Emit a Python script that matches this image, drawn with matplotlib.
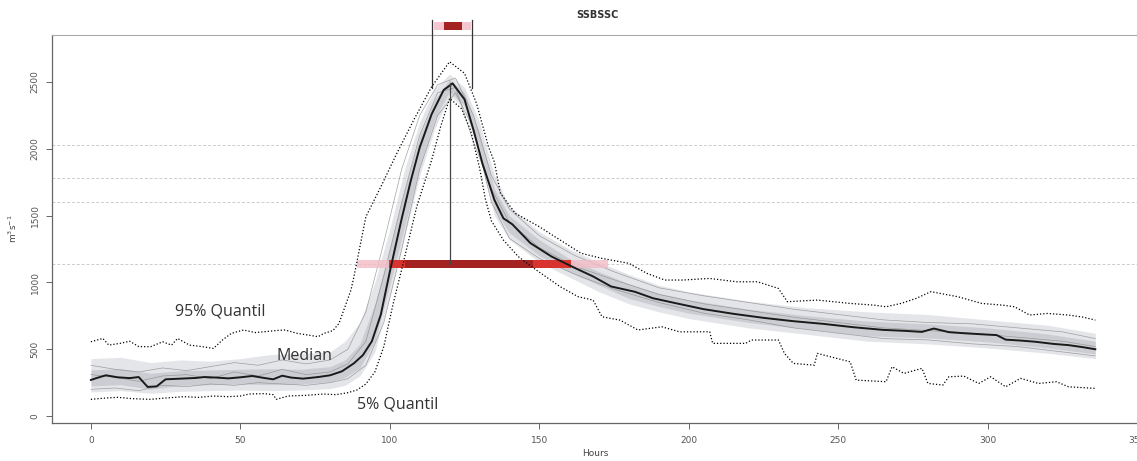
import matplotlib
matplotlib.use("Agg")
import matplotlib.pyplot as plt

# ---------------- data ----------------
med_h = [0, 2, 5, 9, 13, 16, 19, 22, 25, 30, 35, 38, 42, 46, 50, 54, 58, 61, 64, 67,
         71, 76, 80, 84, 88, 91, 94, 97, 100, 104, 107, 110, 114, 118, 121, 125, 128, 131, 135, 138,
         141, 147, 154, 161, 168, 174, 182, 188, 196, 205, 215, 225, 235, 245, 255, 265, 272, 278, 282, 287,
         292, 298, 303, 306, 311, 316, 322, 327, 332, 336]
med_v = [270, 285, 305, 290, 284, 292, 218, 222, 275, 280, 285, 292, 288, 282, 290, 300, 285, 275, 302, 288,
         280, 292, 305, 335, 395, 456, 560, 760, 1080, 1480, 1760, 2010, 2260, 2440, 2490, 2370, 2140, 1890, 1617, 1480,
         1435, 1295, 1195, 1118, 1045, 970, 930, 882, 843, 800, 765, 735, 710, 690, 665, 645, 638, 630, 655, 628,
         620, 612, 606, 572, 565, 556, 540, 531, 515, 500]

q95_h = [0, 4, 6, 10, 13, 16, 20, 24, 27, 29, 33, 37, 41, 44, 47, 51, 55, 58, 62, 65,
         69, 73, 76, 78, 81, 83, 85, 87, 88, 92, 97, 102, 108, 114, 120, 125, 129, 133, 135, 137,
         142, 150, 157, 164, 171, 180, 186, 192, 198, 207, 216, 223, 230, 233, 243, 254, 262, 266, 271, 276,
         281, 286, 290, 298, 305, 309, 314, 320, 327, 332, 336]
q95_v = [556, 581, 531, 545, 560, 520, 519, 556, 531, 581, 531, 520, 506, 569, 619, 644, 625, 631, 640, 644,
         619, 605, 594, 619, 640, 694, 818, 943, 1043, 1492, 1716, 1950, 2216, 2465, 2652, 2565, 2340, 2016, 1900, 1667,
         1517, 1417, 1317, 1218, 1180, 1143, 1068, 1018, 1018, 1030, 1005, 1005, 955, 856, 868, 843, 830, 818, 843, 880,
         931, 910, 893, 843, 830, 818, 756, 768, 756, 740, 718]

q05_h = [0, 5, 9, 14, 20, 25, 31, 36, 41, 46, 50, 53, 58, 61, 62, 66, 72, 78, 82, 86,
         89, 92, 95, 98, 101, 104, 109, 114, 117, 120, 124, 127, 130, 132, 134, 138, 143, 149, 157, 163,
         168, 171, 177, 183, 191, 197, 207, 208, 219, 221, 230, 232, 235, 242, 243, 254, 256, 266, 268, 272,
         278, 280, 285, 287, 292, 297, 301, 306, 311, 317, 323, 327, 336]
q05_v = [125, 135, 140, 130, 125, 135, 145, 140, 150, 145, 150, 165, 168, 160, 125, 150, 155, 165, 160, 175,
         195, 240, 330, 520, 830, 1100, 1567, 1916, 2166, 2378, 2300, 2140, 1860, 1620, 1460, 1317, 1193, 1093, 968, 893,
         868, 743, 718, 644, 668, 630, 631, 544, 544, 569, 569, 469, 394, 381, 469, 406, 269, 257, 369, 319,
         357, 244, 232, 294, 299, 244, 294, 219, 282, 244, 257, 219, 207]

band_h = [0, 10, 20, 30, 40, 50, 60, 70, 80, 85, 90, 95, 100, 105, 110, 115, 120, 125, 130, 135,
          140, 150, 160, 170, 180, 190, 200, 220, 240, 260, 280, 300, 320, 336]
band_lo = [180, 190, 170, 185, 190, 195, 190, 195, 205, 230, 300, 480, 900, 1350, 1800, 2150, 2400, 2300, 1950, 1500,
           1320, 1150, 1040, 930, 840, 780, 730, 660, 610, 560, 540, 510, 470, 430]
band_hi = [430, 440, 400, 420, 410, 430, 460, 470, 480, 560, 700, 1000, 1400, 1850, 2200, 2450, 2560, 2460, 2200, 1800,
           1570, 1380, 1250, 1150, 1060, 980, 930, 860, 810, 780, 760, 720, 680, 620]
core_lo = [225, 235, 200, 230, 235, 240, 235, 240, 255, 290, 360, 560, 980, 1420, 1870, 2220, 2430, 2320, 2010, 1550,
           1370, 1200, 1080, 980, 880, 820, 770, 700, 650, 600, 585, 555, 510, 465]
core_hi = [345, 355, 320, 340, 345, 350, 355, 350, 370, 420, 540, 840, 1260, 1700, 2090, 2370, 2520, 2420, 2120, 1700,
           1500, 1320, 1180, 1080, 990, 920, 870, 800, 750, 710, 690, 660, 615, 560]

mem_h = [0, 8, 16, 24, 32, 40, 48, 56, 64, 72, 80, 86, 92, 98, 104, 110, 116, 122, 128, 134,
         140, 150, 162, 175, 190, 205, 220, 235, 250, 265, 280, 295, 310, 325, 336]
memA_v = [380, 350, 330, 360, 340, 370, 400, 380, 420, 390, 420, 500, 780, 1300, 1850, 2250, 2480, 2530, 2250, 1800,
          1550, 1350, 1200, 1080, 960, 900, 850, 800, 760, 720, 700, 690, 660, 630, 580]
memB_v = [200, 210, 190, 230, 220, 240, 230, 250, 240, 230, 250, 280, 380, 700, 1250, 1850, 2250, 2420, 2150, 1600,
          1330, 1180, 1060, 950, 850, 770, 720, 660, 620, 580, 570, 540, 520, 480, 450]
memC_v = [310, 290, 260, 300, 310, 280, 330, 300, 350, 310, 330, 390, 560, 1050, 1600, 2100, 2420, 2460, 2050, 1700,
          1450, 1260, 1120, 1020, 910, 840, 790, 740, 700, 660, 640, 620, 590, 560, 520]

threshold_levels = [2030, 1780, 1600, 1140]
bar_level = 1140
bar_outer = (89, 173)
bar_mid = (99.6, 160.6)
bar_inner = (105, 148)
peak_time = 120.3
peak_value = 2490
peak_window = (114.2, 127.6)
peak_inner = (118, 124)
top_box_level = 2920
window_line_low = 2455

x_ticks = [0, 50, 100, 150, 200, 250, 300, 350]
y_ticks = [0, 500, 1000, 1500, 2000, 2500]

# ---------------- figure ----------------
fig = plt.figure(figsize=(11.37, 4.61), dpi=100)
ax = fig.add_axes([52 / 1137, 1 - 423 / 461, 1 - 52 / 1137 + 0.002, (423 - 35) / 461])
ax.set_xlim(-13, 350.7)
ax.set_ylim(-52, 2852)

# threshold lines
for lv in threshold_levels:
    ax.axhline(lv, color="#cccccc", lw=0.7, ls=(0, (3, 2)), zorder=1)

# ensemble cloud
ax.fill_between(band_h, band_lo, band_hi, color="#d3d5db", alpha=0.6, lw=0, zorder=2)
ax.fill_between(band_h, core_lo, core_hi, color="#aeb1b8", alpha=0.45, lw=0, zorder=2)
for mv in (memA_v, memB_v, memC_v):
    ax.plot(mem_h, mv, color="#8c8c8c", lw=0.5, alpha=0.8, zorder=3)

# red time-distribution bar
bh = 60
ax.broken_barh([(bar_outer[0], bar_outer[1] - bar_outer[0])], (bar_level - bh / 2, bh),
               facecolor="#f4bcc6", alpha=0.8, zorder=4)
ax.broken_barh([(bar_mid[0], bar_mid[1] - bar_mid[0])], (bar_level - bh / 2, bh),
               facecolor="#d8332e", zorder=5)
ax.broken_barh([(bar_inner[0], bar_inner[1] - bar_inner[0])], (bar_level - bh / 2, bh),
               facecolor="#a52222", zorder=6)

# quantiles and median
ax.plot(q95_h, q95_v, color="black", lw=0.9, ls=(0, (1, 1.6)), zorder=7)
ax.plot(q05_h, q05_v, color="black", lw=0.9, ls=(0, (1, 1.6)), zorder=7)
ax.plot(med_h, med_v, color="#1a1a1a", lw=1.4, zorder=8)

# peak markers
ax.plot([peak_time, peak_time], [bar_level, peak_value], color="#444444", lw=0.9, zorder=9)
for t in peak_window:
    ax.plot([t, t], [window_line_low, top_box_level + 45], color="#333333", lw=0.9,
            clip_on=False, zorder=9)
tb = ax.broken_barh([(peak_window[0] + 0.5, peak_window[1] - peak_window[0] - 1)],
                    (top_box_level - 30, 60), facecolor="#f4c6cf", zorder=9)
tb.set_clip_on(False)
tb2 = ax.broken_barh([(peak_inner[0], peak_inner[1] - peak_inner[0])],
                     (top_box_level - 30, 60), facecolor="#a52222", zorder=10)
tb2.set_clip_on(False)

# annotations
ann_font = dict(family=["Open Sans", "DejaVu Sans"], fontsize=11.5, color="#333333")
ax.text(28, 750, "95% Quantil", **ann_font, zorder=11)
ax.text(62, 418, "Median", **ann_font, zorder=11)
ax.text(89, 55, "5% Quantil", **ann_font, zorder=11)

# axes styling (R-like)
ax.set_xticks(x_ticks)
ax.set_yticks(y_ticks)
ax.set_xticklabels([str(v) for v in x_ticks], fontsize=6.5, color="#555555")
ax.set_yticklabels([str(v) for v in y_ticks], fontsize=6.5, color="#555555", rotation=90, va="center")
ax.tick_params(axis="both", direction="out", length=4, width=0.7, color="#666666", pad=5)
for s in ["left", "bottom"]:
    ax.spines[s].set_color("#666666")
    ax.spines[s].set_linewidth(0.9)
ax.spines["top"].set_color("#aaaaaa")
ax.spines["top"].set_linewidth(0.8)
ax.spines["top"].set_linestyle((0, (6, 1)))
ax.spines["right"].set_visible(False)

ax.set_xlabel("Hours", fontsize=6.5, color="#444444", labelpad=3)
ax.set_ylabel("m$^3$s$^{-1}$", fontsize=6.5, color="#444444", labelpad=8)
fig.text(597 / 1137, 1 - 15 / 461, "SSBSSC", fontsize=7, fontweight="bold", color="#333333",
         ha="center", va="center")

fig.savefig("out.png", dpi=100)
